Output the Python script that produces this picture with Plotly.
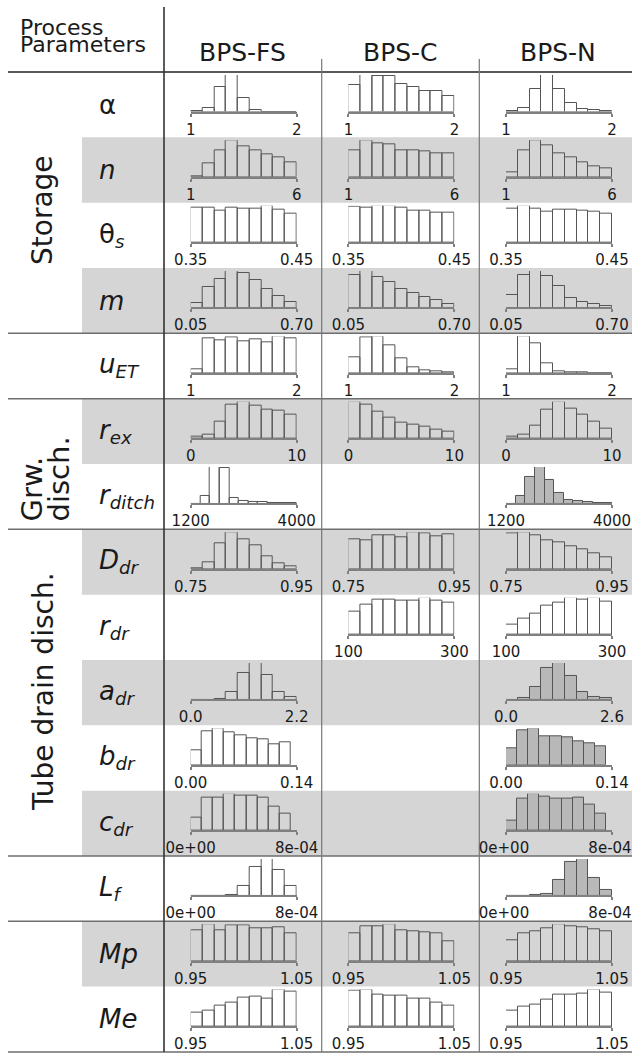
import plotly.graph_objects as go

W, H = 632, 1053

# ---------------- data ----------------
models = ["BPS-FS", "BPS-C", "BPS-N"]
param_keys = ["alpha", "n", "theta_s", "m", "u_ET", "r_ex", "r_ditch", "D_dr",
              "r_dr", "a_dr", "b_dr", "c_dr", "L_f", "Mp", "Me"]
param_labels = ["α", "<i>n</i>", "θ<sub><i>s</i></sub>", "<i>m</i>",
                "<i>u<sub>ET</sub></i>", "<i>r<sub>ex</sub></i>", "<i>r<sub>ditch</sub></i>",
                "<i>D<sub>dr</sub></i>", "<i>r<sub>dr</sub></i>", "<i>a<sub>dr</sub></i>",
                "<i>b<sub>dr</sub></i>", "<i>c<sub>dr</sub></i>", "<i>L<sub>f</sub></i>",
                "<i>Mp</i>", "<i>Me</i>"]
axis_lo = [1, 1, 0.35, 0.05, 1, 0, 1200, 0.75, 100, 0.0, 0.00, 0.0, 0.0, 0.95, 0.95]
axis_hi = [2, 6, 0.45, 0.70, 2, 10, 4000, 0.95, 300, 2.2, 0.14, 8e-4, 8e-4, 1.05, 1.05]
tick_lo = ["1", "1", "0.35", "0.05", "1", "0", "1200", "0.75", "100", "0.0", "0.00", "0e+00", "0e+00", "0.95", "0.95"]
tick_hi = ["2", "6", "0.45", "0.70", "2", "10", "4000", "0.95", "300", "2.2", "0.14", "8e-04", "8e-04", "1.05", "1.05"]
a_dr_hi_n = 2.6
a_dr_tick_hi_n = "2.6"
b_dr_bin_hi = 0.132
c_dr_bin_hi = 7.55e-4

# bin counts (relative frequencies)
alpha_fs = [1, 9, 68, 100, 36, 3, 0, 0, 0]
alpha_c = [73, 100, 98, 98, 75, 68, 57, 57, 44]
alpha_n = [1, 9, 61, 100, 61, 23, 7, 3, 2]
n_fs = [2, 37, 74, 100, 84, 73, 62, 54, 41]
n_c = [73, 100, 92, 90, 74, 73, 71, 64, 66]
n_n = [13, 73, 100, 88, 66, 53, 40, 30, 23]
theta_s_fs = [96, 96, 87, 96, 94, 94, 100, 91, 80]
theta_s_c = [98, 95, 100, 100, 95, 86, 86, 82, 82]
theta_s_n = [93, 100, 93, 84, 91, 89, 87, 84, 80]
m_fs = [12, 57, 79, 100, 95, 77, 50, 32, 15]
m_c = [91, 100, 85, 70, 52, 39, 30, 21, 9]
m_n = [34, 91, 100, 88, 59, 27, 15, 9, 5]
u_et_fs = [9, 95, 91, 98, 86, 94, 84, 100, 95]
u_et_c = [44, 98, 100, 77, 41, 15, 6, 3, 2]
u_et_n = [11, 100, 82, 25, 3, 1, 1, 0, 0]
r_ex_fs = [3, 9, 47, 94, 100, 91, 78, 76, 66]
r_ex_c = [100, 94, 73, 58, 44, 38, 32, 23, 18]
r_ex_n = [3, 9, 35, 80, 100, 82, 65, 47, 25]
r_ditch_fs = [0, 20, 100, 98, 15, 6, 4, 3, 2, 1, 1]
r_ditch_n = [0, 20, 73, 100, 66, 30, 11, 6, 4, 2, 1]
d_dr_fs = [2, 19, 70, 100, 82, 66, 34, 15, 6]
d_dr_c = [82, 78, 94, 92, 88, 100, 98, 91, 96]
d_dr_n = [99, 100, 93, 78, 73, 61, 54, 43, 32]
r_dr_c = [62, 82, 96, 96, 94, 94, 100, 94, 87]
r_dr_n = [27, 42, 58, 80, 87, 100, 96, 100, 91]
a_dr_fs = [0, 0, 1, 22, 74, 100, 67, 22, 6]
a_dr_n = [0, 3, 35, 87, 100, 65, 22, 6, 3]
b_dr_fs = [39, 94, 100, 91, 82, 73, 71, 57, 62]
b_dr_n = [45, 96, 100, 80, 80, 75, 64, 60, 50]
c_dr_fs = [34, 91, 91, 100, 95, 95, 91, 66, 45]
c_dr_n = [27, 86, 100, 94, 88, 88, 91, 70, 45]
l_f_fs = [0, 0, 0, 2, 26, 78, 100, 70, 26]
l_f_n = [0, 0, 1, 4, 42, 93, 100, 49, 15]
mp_fs = [84, 100, 84, 98, 98, 91, 91, 93, 75]
mp_c = [75, 96, 96, 100, 84, 82, 79, 75, 54]
mp_n = [58, 77, 81, 90, 100, 95, 93, 88, 81]
me_fs = [36, 44, 56, 65, 80, 82, 75, 100, 95]
me_c = [97, 100, 88, 84, 84, 77, 75, 64, 56]
me_n = [42, 54, 60, 74, 88, 88, 91, 100, 94]

gray_rows = [1, 3, 5, 7, 9, 11, 13]
separator_after = [3, 4, 6, 11, 12, 14]
shaded_n = ["r_ditch", "a_dr", "b_dr", "c_dr", "L_f"]

hist_table = {
    "alpha": [alpha_fs, alpha_c, alpha_n],
    "n": [n_fs, n_c, n_n],
    "theta_s": [theta_s_fs, theta_s_c, theta_s_n],
    "m": [m_fs, m_c, m_n],
    "u_ET": [u_et_fs, u_et_c, u_et_n],
    "r_ex": [r_ex_fs, r_ex_c, r_ex_n],
    "r_ditch": [r_ditch_fs, None, r_ditch_n],
    "D_dr": [d_dr_fs, d_dr_c, d_dr_n],
    "r_dr": [None, r_dr_c, r_dr_n],
    "a_dr": [a_dr_fs, None, a_dr_n],
    "b_dr": [b_dr_fs, None, b_dr_n],
    "c_dr": [c_dr_fs, None, c_dr_n],
    "L_f": [l_f_fs, None, l_f_n],
    "Mp": [mp_fs, mp_c, mp_n],
    "Me": [me_fs, me_c, me_n],
}

# ---------------- styling / geometry ----------------
FONT = "DejaVu Sans"
TXT = "#1a1a1a"
BAND = "#d5d5d5"
SHADE = "#b8b8b8"
ROW_TOP0 = 72.0
ROW_H = 65.33
COL_LINES = [164.0, 321.7, 479.3]
HIST_OFF = 26.7
HIST_W = 106.0


def px_x(x):
    return x / W


def px_y(y):
    return 1 - y / H


fig = go.Figure()
layout = {}
k = 0
for r, key in enumerate(param_keys):
    row_top = ROW_TOP0 + r * ROW_H
    base = row_top + 39.5
    top = row_top + 3.0
    for c, model in enumerate(models):
        counts = hist_table[key][c]
        if counts is None:
            continue
        k += 1
        lo = axis_lo[r]
        hi = axis_hi[r]
        thi = tick_hi[r]
        if key == "a_dr" and c == 2:
            hi = a_dr_hi_n
            thi = a_dr_tick_hi_n
        bin_hi = hi
        if key == "b_dr":
            bin_hi = b_dr_bin_hi
        if key == "c_dr":
            bin_hi = c_dr_bin_hi
        nb = len(counts)
        bw = (bin_hi - lo) / nb
        xs = [lo + (i + 0.5) * bw for i in range(nb)]
        fill = SHADE if (c == 2 and key in shaded_n) else "rgba(0,0,0,0)"
        sfx = "" if k == 1 else str(k)
        fig.add_trace(go.Bar(
            x=xs, y=counts, width=[bw] * nb,
            xaxis="x" + sfx, yaxis="y" + sfx,
            marker=dict(color=fill, line=dict(color="#555555", width=1)),
            showlegend=False, hoverinfo="skip"))
        x0 = COL_LINES[c] + HIST_OFF
        span = hi - lo
        shift = -2 if (c == 2 and len(thi) > 4) else 0
        layout["xaxis" + sfx] = dict(
            domain=[px_x(x0), min(px_x(x0 + HIST_W), 1.0)],
            range=[lo - span * 1e-6, hi + span * 1e-6],
            anchor="y" + sfx, showline=True, linecolor="#808080", linewidth=2,
            ticks="outside", ticklen=3, tickwidth=1.5, tickcolor="#808080",
            tickvals=[lo, hi], ticktext=[tick_lo[r], thi],
            tickfont=dict(family=FONT, size=15, color=TXT),
            ticklabeloverflow="allow", ticklabelshift=shift,
            showgrid=False, zeroline=False, fixedrange=True, automargin=False,
            ticklabelstandoff=0)
        layout["yaxis" + sfx] = dict(
            domain=[px_y(base), px_y(top)], range=[0, max(counts) * 1.01],
            anchor="x" + sfx, visible=False, fixedrange=True, automargin=False)

shapes = []
# gray bands
for r in gray_rows:
    y0 = ROW_TOP0 + r * ROW_H
    shapes.append(dict(type="rect", xref="paper", yref="paper", layer="below",
                       x0=px_x(82), x1=1, y0=px_y(y0 + ROW_H), y1=px_y(y0),
                       fillcolor=BAND, line=dict(width=0)))
# header line
shapes.append(dict(type="line", xref="paper", yref="paper", layer="below",
                   x0=px_x(8), x1=1, y0=px_y(ROW_TOP0), y1=px_y(ROW_TOP0),
                   line=dict(color="#222222", width=1.6)))
for r in separator_after:
    y = ROW_TOP0 + (r + 1) * ROW_H
    shapes.append(dict(type="line", xref="paper", yref="paper", layer="below",
                       x0=px_x(8), x1=1, y0=px_y(y), y1=px_y(y),
                       line=dict(color="#6e6e6e", width=1.5)))
bottom = ROW_TOP0 + 15 * ROW_H
shapes.append(dict(type="line", xref="paper", yref="paper", layer="below",
                   x0=px_x(COL_LINES[0]), x1=px_x(COL_LINES[0]), y0=px_y(7), y1=px_y(bottom),
                   line=dict(color="#333333", width=1.6)))
for xl in COL_LINES[1:]:
    shapes.append(dict(type="line", xref="paper", yref="paper", layer="below",
                       x0=px_x(xl), x1=px_x(xl), y0=px_y(59), y1=px_y(bottom),
                       line=dict(color="#777777", width=1.2)))

ann = []
ann.append(dict(text="Process", x=px_x(18), y=px_y(27), xanchor="left", yanchor="middle",
                font=dict(family=FONT, size=22, color=TXT)))
ann.append(dict(text="Parameters", x=px_x(18), y=px_y(44), xanchor="left", yanchor="middle",
                font=dict(family=FONT, size=22, color=TXT)))
for c, model in enumerate(models):
    cx = COL_LINES[c] + 78.8
    ann.append(dict(text=model, x=px_x(cx), y=px_y(52), xanchor="center", yanchor="middle",
                    font=dict(family=FONT, size=25, color=TXT)))
for r, lab in enumerate(param_labels):
    yc = ROW_TOP0 + r * ROW_H + ROW_H / 2
    ann.append(dict(text=lab, x=px_x(97), y=px_y(yc), xanchor="left", yanchor="middle",
                    font=dict(family=FONT, size=26, color=TXT)))
# group labels (rotated)
ann.append(dict(text="Storage", x=px_x(42), y=px_y(210), xanchor="center", yanchor="middle",
                textangle=-90, font=dict(family=FONT, size=28, color=TXT)))
ann.append(dict(text="Grw.", x=px_x(31), y=px_y(524), xanchor="center", yanchor="bottom",
                textangle=-90, font=dict(family=FONT, size=29, color=TXT)))
ann.append(dict(text="disch.", x=px_x(58), y=px_y(524), xanchor="center", yanchor="bottom",
                textangle=-90, font=dict(family=FONT, size=29, color=TXT)))
ann.append(dict(text="Tube drain disch.", x=px_x(43), y=px_y(692), xanchor="center", yanchor="middle",
                textangle=-90, font=dict(family=FONT, size=28, color=TXT)))
for a in ann:
    a.update(xref="paper", yref="paper", showarrow=False)

fig.update_layout(
    width=W, height=H, autosize=False,
    margin=dict(l=0, r=0, t=0, b=0, pad=0, autoexpand=False),
    paper_bgcolor="white", plot_bgcolor="rgba(0,0,0,0)",
    bargap=0, showlegend=False, shapes=shapes, annotations=ann,
    font=dict(family=FONT, color=TXT), **layout)

fig.write_html("out.html")
